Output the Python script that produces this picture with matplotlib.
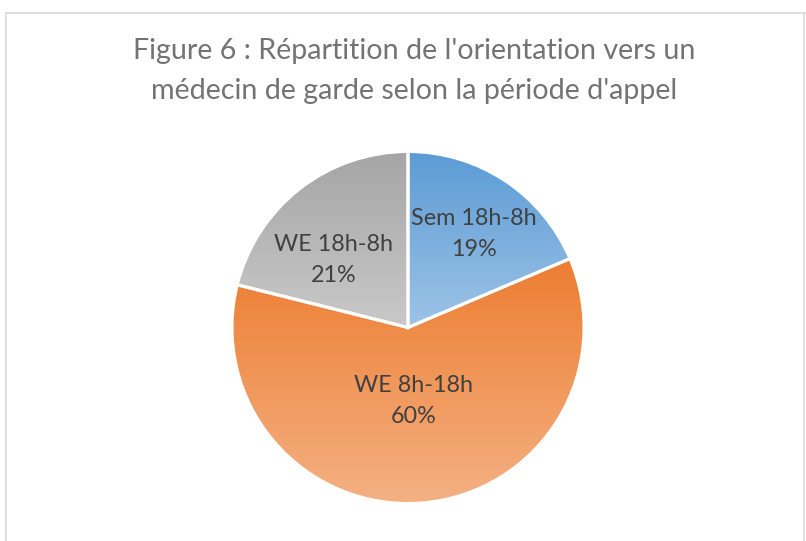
import numpy as np
import matplotlib
matplotlib.use("Agg")
import matplotlib.pyplot as plt
from matplotlib.colors import to_rgb
from matplotlib.lines import Line2D

# ---- data ----
categories = ["Sem 18h-8h", "WE 8h-18h", "WE 18h-8h"]
values = [18.6, 60.3, 21.1]
pct_labels = ["19%", "60%", "21%"]
title = "Figure 6 : Répartition de l'orientation vers un\nmédecin de garde selon la période d'appel"

# ---- style ----
grad_top = ["#5B9BD5", "#ED7D31", "#A5A5A5"]
grad_bottom = ["#9DC3E6", "#F4B183", "#C9C9C9"]
label_radius = [0.65, 0.42, 0.57]
label_angle_offset = [-1.7, 0.0, 10.0]
FONT = "Lato"

W, H = 806, 541
fig = plt.figure(figsize=(W / 100, H / 100), dpi=100)
fig.patch.set_facecolor("white")

# chart frame
fc = "#D9D9D9"
fig.add_artist(Line2D([5.5 / W, 5.5 / W], [0, 1 - 12.5 / H], transform=fig.transFigure, color=fc, lw=1.2))
fig.add_artist(Line2D([5.5 / W, 1], [1 - 12.5 / H, 1 - 12.5 / H], transform=fig.transFigure, color=fc, lw=1.2))
fig.add_artist(Line2D([803.5 / W, 803.5 / W], [0, 1 - 12.5 / H], transform=fig.transFigure, color=fc, lw=1.2))

fig.text(414 / W, 1 - 71 / H, title, ha="center", va="center", fontsize=20.6,
         color="#737373", family=FONT, linespacing=1.68)

cx, cy, r = 408, 327.5, 176
ax = fig.add_axes([(cx - r) / W, (H - cy - r) / H, 2 * r / W, 2 * r / H])
wedges, _ = ax.pie(values, startangle=90, counterclock=False, radius=1,
                   wedgeprops=dict(edgecolor="white", linewidth=2.2))
ax.set_xlim(-1, 1)
ax.set_ylim(-1, 1)
ax.axis("off")

for i, w in enumerate(wedges):
    verts = w.get_path().vertices
    xmin, ymin = verts.min(axis=0)
    xmax, ymax = verts.max(axis=0)
    c1 = np.array(to_rgb(grad_top[i]))
    c2 = np.array(to_rgb(grad_bottom[i]))
    t = np.linspace(0, 1, 256)[:, None]
    grad = (c2 * (1 - t) + c1 * t)[:, None, :]
    im = ax.imshow(grad, extent=[xmin, xmax, ymin, ymax], origin="lower",
                   aspect="auto", zorder=1, interpolation="bilinear")
    im.set_clip_path(w)
    w.set_facecolor("none")
    w.set_zorder(3)
    mid = np.deg2rad((w.theta1 + w.theta2) / 2 + label_angle_offset[i])
    rr = label_radius[i]
    ax.text(rr * np.cos(mid), rr * np.sin(mid), f"{categories[i]}\n{pct_labels[i]}",
            ha="center", va="center", fontsize=16.8, color="#404040", family=FONT,
            linespacing=1.6, zorder=4)

ax.set_xlim(-1, 1)
ax.set_ylim(-1, 1)
fig.savefig("out.png", dpi=100)
